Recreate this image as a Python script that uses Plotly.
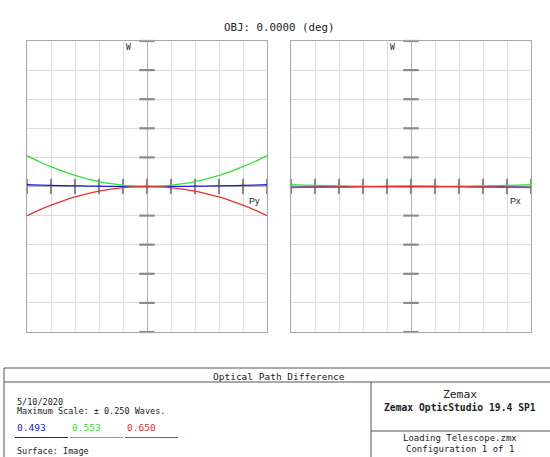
import plotly.graph_objects as go

# ---- data ----
pupil = [-1.0, -0.9, -0.8, -0.7, -0.6, -0.5, -0.4, -0.3, -0.2, -0.1, 0.0,
         0.1, 0.2, 0.3, 0.4, 0.5, 0.6, 0.7, 0.8, 0.9, 1.0]
# tangential fan (Py), waves
py_blue = [0.003, 0.0024, 0.0019, 0.0015, 0.0011, 0.0008, 0.0005, 0.0003, 0.0001, 0.0, 0.0,
           0.0, 0.0001, 0.0003, 0.0005, 0.0008, 0.0011, 0.0015, 0.0019, 0.0024, 0.003]
py_green = [0.053, 0.043, 0.034, 0.026, 0.0191, 0.0133, 0.0085, 0.0048, 0.0021, 0.0005, 0.0,
            0.0005, 0.0021, 0.0048, 0.0085, 0.0133, 0.0191, 0.026, 0.034, 0.043, 0.053]
py_red = [-0.05, -0.0405, -0.032, -0.0245, -0.018, -0.0125, -0.008, -0.0045, -0.002, -0.0005, 0.0,
          -0.0005, -0.002, -0.0045, -0.008, -0.0125, -0.018, -0.0245, -0.032, -0.0405, -0.05]
# sagittal fan (Px), waves
px_blue = [-0.0015, -0.0012, -0.001, -0.0007, -0.0005, -0.0004, -0.0002, -0.0001, 0.0, 0.0, 0.0,
           0.0, 0.0, -0.0001, -0.0002, -0.0004, -0.0005, -0.0007, -0.001, -0.0012, -0.0015]
px_green = [0.003, 0.0025, 0.002, 0.0015, 0.0011, 0.0008, 0.0005, 0.0003, 0.0001, 0.0, 0.0,
            0.0, 0.0001, 0.0003, 0.0005, 0.0008, 0.0011, 0.0015, 0.002, 0.0025, 0.003]
px_red = [-0.002, -0.0016, -0.0013, -0.001, -0.0007, -0.0005, -0.0003, -0.0002, -0.0001, 0.0, 0.0,
          0.0, -0.0001, -0.0002, -0.0003, -0.0005, -0.0007, -0.001, -0.0013, -0.0016, -0.002]

x_ticks = [-1.0, -0.8, -0.6, -0.4, -0.2, 0.0, 0.2, 0.4, 0.6, 0.8, 1.0]
y_ticks = [-0.25, -0.2, -0.15, -0.1, -0.05, 0.05, 0.1, 0.15, 0.2, 0.25]
y_zero = [0.0] * len(x_ticks)
x_zero = [0.0] * len(y_ticks)

wavelengths = ["0.493", "0.553", "0.650"]
colors = ["#1a1adc", "#33e033", "#e83030"]
max_scale = 0.25

W, H = 550, 457
def px(x):
    return x / W
def py(y):
    return 1 - y / H

fig = go.Figure()

panels = [("x", "y", py_blue, py_green, py_red),
          ("x2", "y2", px_blue, px_green, px_red)]
for xa, ya, b, g, r in panels:
    # center tick dashes
    fig.add_trace(go.Scatter(x=x_ticks, y=y_zero, mode="markers", xaxis=xa, yaxis=ya,
                             marker=dict(symbol="line-ns", size=11,
                                         line=dict(width=2.2, color="#8a8a8a")),
                             hoverinfo="skip", showlegend=False, cliponaxis=False))
    fig.add_trace(go.Scatter(x=x_zero, y=y_ticks, mode="markers", xaxis=xa, yaxis=ya,
                             marker=dict(symbol="line-ew", size=11,
                                         line=dict(width=2.2, color="#8a8a8a")),
                             hoverinfo="skip", showlegend=False, cliponaxis=False))
    for vals, c in zip([b, g, r], colors):
        fig.add_trace(go.Scatter(x=pupil, y=vals, mode="lines", xaxis=xa, yaxis=ya,
                                 line=dict(color=c, width=1.3, shape="spline"),
                                 hoverinfo="skip", showlegend=False))

axis_common = dict(range=[-1, 1], dtick=0.2, showgrid=True, gridcolor="#dcdcdc",
                   gridwidth=1, zeroline=True, zerolinecolor="#b4b4b4", zerolinewidth=1,
                   showline=True, linecolor="#a8a8a8", linewidth=1, mirror=True,
                   showticklabels=False, ticks="", fixedrange=True)
yaxis_common = dict(axis_common)
yaxis_common.update(range=[-max_scale, max_scale], dtick=0.05)

fig.update_layout(
    width=W, height=H, margin=dict(l=0, r=0, t=0, b=0),
    plot_bgcolor="white", paper_bgcolor="white",
    xaxis=dict(axis_common, domain=[px(27), px(267)], anchor="y"),
    yaxis=dict(yaxis_common, domain=[py(332), py(41)], anchor="x"),
    xaxis2=dict(axis_common, domain=[px(291), px(531)], anchor="y2"),
    yaxis2=dict(yaxis_common, domain=[py(332), py(41)], anchor="x2"),
)

mono = "DejaVu Sans Mono"
ann = []
def text(x, y, s, size=9, color="#222", xanchor="left", family=mono, bold=False):
    if bold:
        s = "<b>" + s + "</b>"
    ann.append(dict(x=px(x), y=py(y), xref="paper", yref="paper", text=s, showarrow=False,
                    xanchor=xanchor, yanchor="middle", font=dict(family=family, size=size, color=color)))

text(279, 27, "OBJ: 0.0000 (deg)", size=10.8, xanchor="center")
text(128, 48, "W", size=8, xanchor="center")
text(392, 48, "W", size=8, xanchor="center")
text(254, 201, "Py", size=9, xanchor="center", family="Liberation Sans")
text(515, 201, "Px", size=9, xanchor="center", family="Liberation Sans")

text(279, 376, "Optical Path Difference", size=9.5, xanchor="center")
text(15, 402, "5/10/2020", size=8.5)
text(15, 411, "Maximum Scale: ± 0.250 Waves.", size=8.5)
for i, (w, c) in enumerate(zip(wavelengths, colors)):
    text(15 + 55 * i, 427, w, size=9.5, color=c)
text(15, 451, "Surface: Image", size=8.5)
text(460, 394, "Zemax", size=11.3, xanchor="center")
text(460, 407, "Zemax OpticStudio 19.4 SP1", size=9.7, xanchor="center", bold=True)
text(460, 438, "Loading Telescope.zmx", size=9, xanchor="center")
text(460, 449, "Configuration 1 of 1", size=9, xanchor="center")

shapes = []
def line(x0, y0, x1, y1, color="#555", width=1):
    shapes.append(dict(type="line", xref="paper", yref="paper", x0=px(x0), y0=py(y0),
                       x1=px(x1), y1=py(y1), line=dict(color=color, width=width)))

line(4, 368, 550, 368)
line(4, 368, 4, 457)
line(4, 382, 550, 382)
line(371, 382, 371, 457)
line(371, 431, 550, 431)
for i, c in enumerate(colors):
    line(15 + 55 * i, 437.5, 68 + 55 * i, 437.5, color=c)

fig.update_layout(annotations=ann, shapes=shapes)
fig.write_html("out.html")
